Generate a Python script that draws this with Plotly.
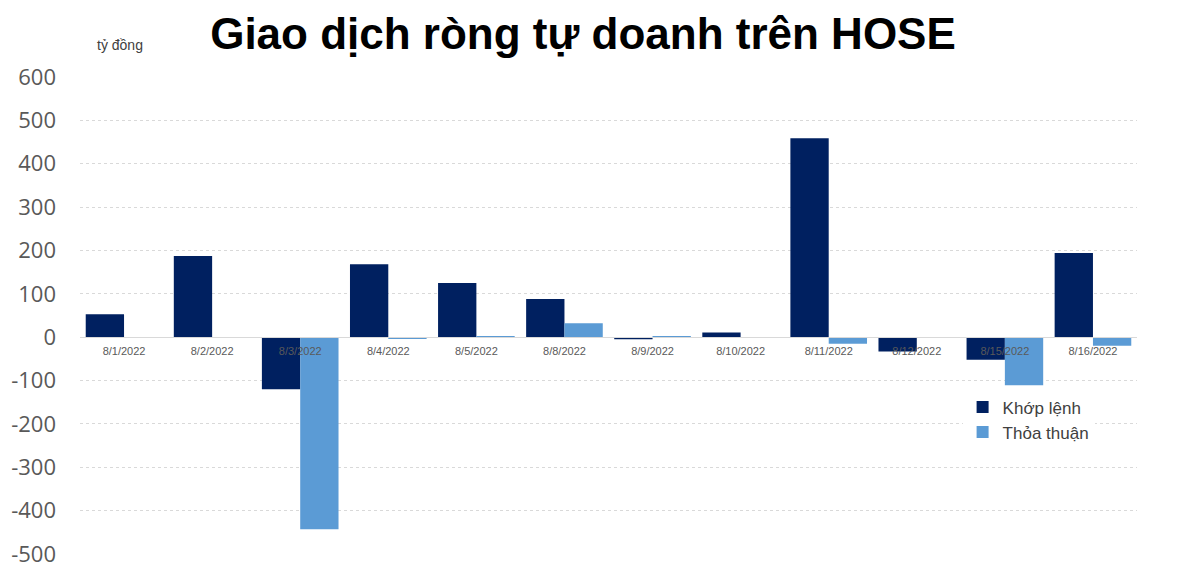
import plotly.graph_objects as go

dates = ["8/1/2022", "8/2/2022", "8/3/2022", "8/4/2022", "8/5/2022", "8/8/2022",
         "8/9/2022", "8/10/2022", "8/11/2022", "8/12/2022", "8/15/2022", "8/16/2022"]
khop_lenh = [53, 187, -120, 168, 125, 88, -5, 11, 459, -33, -52, 194]
thoa_thuan = [0, 0, -443, -2, 2, 32, 2, 0, -15, 0, -111, -20]
series_names = ["Khớp lệnh", "Thỏa thuận"]
y_ticks = [600, 500, 400, 300, 200, 100, 0, -100, -200, -300, -400, -500]
y_tick_labels = ["600", "500", "400", "300", "200", "100", "0",
                 "-100", "-200", "-300", "-400", "-500"]

# page body adds an 8px margin, so the figure is slightly smaller than the window
W, H = 1192, 567
ML, MR, MT, MB = 72, 63, 69, 21
y_min, y_max = -500, 600
pw = W - ML - MR
ph = H - MT - MB

fig = go.Figure()
fig.add_trace(go.Bar(x=dates, y=khop_lenh, name=series_names[0], legendgroup="a",
                     marker=dict(color="#002060", line=dict(width=0))))
fig.add_trace(go.Bar(x=dates, y=thoa_thuan, name=series_names[1], legendgroup="b",
                     marker=dict(color="#5B9BD5", line=dict(width=0))))

zero_frac = (0 - y_min) / (y_max - y_min)

fig.update_layout(
    width=W, height=H,
    margin=dict(l=ML, r=MR, t=MT, b=MB, autoexpand=False),
    paper_bgcolor="white", plot_bgcolor="white",
    barmode="group", bargap=0.13, bargroupgap=0,
    title=dict(text="<b>Giao dịch ròng tự doanh trên HOSE</b>",
               x=575 / W, xanchor="center", y=1 - 26 / H, yanchor="middle", yref="container",
               font=dict(family="Liberation Sans, Arial, sans-serif", size=44, color="black")),
    showlegend=True,
    legend=dict(x=0.835, y=0.345, xanchor="left", yanchor="top",
                font=dict(family="Liberation Sans, Arial, sans-serif", size=17, color="#404040"),
                bgcolor="white", itemwidth=30, tracegroupgap=3, traceorder="normal"),
    xaxis=dict(type="category", anchor="free", position=zero_frac,
               showline=True, linecolor="#d9d9d9", linewidth=1,
               showgrid=False, ticks="", ticklabelstandoff=4,
               tickfont=dict(family="Liberation Sans, Arial, sans-serif", size=11, color="#595959"),
               layer="above traces"),
    yaxis=dict(range=[y_min, y_max], tickvals=y_ticks, ticktext=y_tick_labels,
               showgrid=True, gridcolor="#d9d9d9", griddash="dot", gridwidth=1,
               zeroline=False, showline=False, ticks="",
               ticklabelstandoff=23,
               tickfont=dict(family="Open Sans, Liberation Sans, sans-serif", size=22, color="#595959")),
    font=dict(family="Liberation Sans, Arial, sans-serif"),
)
fig.add_annotation(text="tỷ đồng", x=(112 - ML) / pw, y=1 + (MT - 37) / ph,
                   xref="paper", yref="paper", xanchor="center", yanchor="middle",
                   showarrow=False,
                   font=dict(family="Liberation Sans, Arial, sans-serif", size=14, color="#404040"))

fig.write_html("out.html")
